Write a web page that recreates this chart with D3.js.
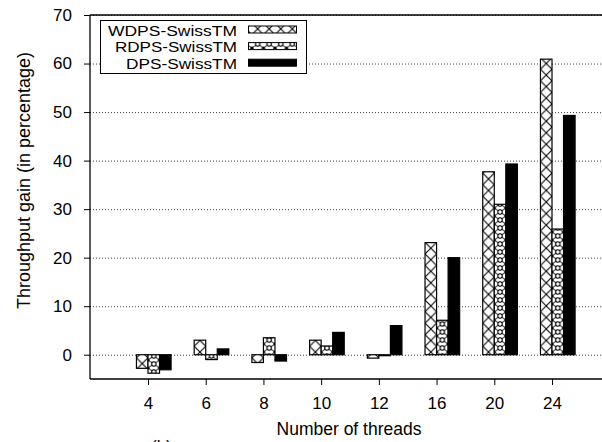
<!DOCTYPE html>
<html>
<head>
<meta charset="utf-8">
<script src="https://cdn.jsdelivr.net/npm/d3@7/dist/d3.min.js"></script>
<style>
  html, body { margin: 0; padding: 0; background: #fff; }
  svg { display: block; font-family: "Liberation Sans", Arial, sans-serif; }
</style>
</head>
<body>
<svg id="chart" width="602" height="442"></svg>
<script>
// Thread counts on the x axis
const threads = ["4", "6", "8", "10", "12", "16", "20", "24"];
// Throughput gain (%) of each variant over SwissTM
const wdps = [-2.8, 3.0, -1.6, 3.0, -0.7, 23.1, 37.7, 60.9];
const rdps = [-3.8, -1.0, 3.5, 1.8, -0.2, 7.1, 31.0, 25.9];
const dps  = [-3.1, 1.2, -1.3, 4.6, 6.0, 20.0, 39.3, 49.3];
const seriesNames = ["WDPS-SwissTM", "RDPS-SwissTM", "DPS-SwissTM"];
const yTicks = [0, 10, 20, 30, 40, 50, 60, 70];

const series = [wdps, rdps, dps];
const svg = d3.select("#chart");
const FS = 17;

const plotLeft = 90, plotTop = 15, plotBottom = 379, plotRight = 610;
const x = d3.scalePoint().domain(threads).range([148, 552]);
const step = x.step();
const bw = step / 5;
const y = d3.scaleLinear().domain([-5, 70]).range([plotBottom, plotTop]);

// fill patterns
const defs = svg.append("defs");
const x0 = x(threads[0]) - bw;

const p1 = defs.append("pattern").attr("id", "pat0")
  .attr("patternUnits", "userSpaceOnUse")
  .attr("x", x0).attr("y", 0).attr("width", bw).attr("height", bw);
p1.append("rect").attr("width", bw).attr("height", bw).attr("fill", "#fff");
p1.append("path").attr("d", `M0,0L${bw},${bw}M${bw},0L0,${bw}`)
  .attr("stroke", "#000").attr("stroke-width", 1.1).attr("fill", "none");

const ph = 8;
const p2 = defs.append("pattern").attr("id", "pat1")
  .attr("patternUnits", "userSpaceOnUse")
  .attr("x", x0).attr("y", 0).attr("width", bw).attr("height", ph);
p2.append("rect").attr("width", bw).attr("height", ph).attr("fill", "#fff");
p2.append("path").attr("d", `M0,0L${bw/2},${ph/2}L${bw},0M0,${ph}L${bw/2},${ph/2}L${bw},${ph}`)
  .attr("stroke", "#555").attr("stroke-width", 1.1).attr("fill", "none");
p2.append("circle").attr("cx", bw / 2).attr("cy", ph / 2).attr("r", 2.2)
  .attr("fill", "#fff").attr("stroke", "#000").attr("stroke-width", 1.1);
[[0, 0], [bw, 0], [0, ph], [bw, ph]].forEach(([cx, cy]) =>
  p2.append("circle").attr("cx", cx).attr("cy", cy).attr("r", 1.6).attr("fill", "#000"));

const fills = ["url(#pat0)", "url(#pat1)", "#000"];

// grid lines
svg.append("g").selectAll("line").data(yTicks).join("line")
  .attr("x1", plotLeft).attr("x2", plotRight)
  .attr("y1", d => y(d) + 0.5).attr("y2", d => y(d) + 0.5)
  .attr("stroke", "#444").attr("stroke-width", 1)
  .attr("stroke-dasharray", "1,2");

// bars
const barG = svg.append("g");
series.forEach((vals, j) => {
  barG.append("g").selectAll("rect").data(vals).join("rect")
    .attr("x", (d, i) => x(threads[i]) - bw + j * bw)
    .attr("width", bw)
    .attr("y", d => y(Math.max(0, d)))
    .attr("height", d => Math.abs(y(d) - y(0)))
    .attr("fill", fills[j])
    .attr("stroke", "#000").attr("stroke-width", 1.2);
});

// frame
const frame = svg.append("g").attr("stroke", "#000").attr("stroke-width", 1.3);
frame.append("line").attr("x1", plotLeft).attr("x2", plotRight).attr("y1", plotTop).attr("y2", plotTop);
frame.append("line").attr("x1", plotLeft).attr("x2", plotRight).attr("y1", plotBottom).attr("y2", plotBottom);

// axes
const yAxis = svg.append("g").attr("transform", `translate(${plotLeft},0)`)
  .call(d3.axisLeft(y).tickValues(yTicks).tickSize(6).tickPadding(12).tickSizeOuter(0));
yAxis.select(".domain").attr("d", `M0,${plotTop}V${plotBottom}`).attr("stroke-width", 1.3);
yAxis.selectAll("text").attr("font-size", FS).attr("fill", "#000")
  .attr("font-family", "Liberation Sans, Arial, sans-serif");

const xAxis = svg.append("g").attr("transform", `translate(0,${plotBottom})`)
  .call(d3.axisBottom(x).tickSize(6).tickPadding(12).tickSizeOuter(0));
xAxis.select(".domain").remove();
xAxis.selectAll("text").attr("font-size", FS).attr("fill", "#000")
  .attr("font-family", "Liberation Sans, Arial, sans-serif");

// axis titles
svg.append("text").attr("x", 349).attr("y", 435).attr("text-anchor", "middle")
  .attr("font-size", 17.5).text("Number of threads");
svg.append("text").attr("transform", "translate(29.5,180.5) rotate(-90)")
  .attr("text-anchor", "middle").attr("font-size", 18)
  .text("Throughput gain (in percentage)");

// caption, partly below the visible area
svg.append("text").attr("x", 151).attr("y", 452).attr("font-size", FS).text("(b)");

// legend
const lg = svg.append("g");
lg.append("rect").attr("x", 100.5).attr("y", 20.5).attr("width", 206).attr("height", 53)
  .attr("fill", "#fff").attr("stroke", "#000").attr("stroke-width", 1);
const legendWidths = [129, 122, 111];
seriesNames.forEach((name, j) => {
  const ty = 35.5 + j * 16.6;
  lg.append("text").attr("x", 237).attr("y", ty).attr("text-anchor", "end")
    .attr("font-size", 14.5)
    .attr("textLength", legendWidths[j]).attr("lengthAdjust", "spacingAndGlyphs")
    .text(name);
  lg.append("rect").attr("x", 248.5).attr("y", ty - 9.5).attr("width", 48).attr("height", 7)
    .attr("fill", fills[j]).attr("stroke", "#000").attr("stroke-width", 1);
});
</script>
</body>
</html>
